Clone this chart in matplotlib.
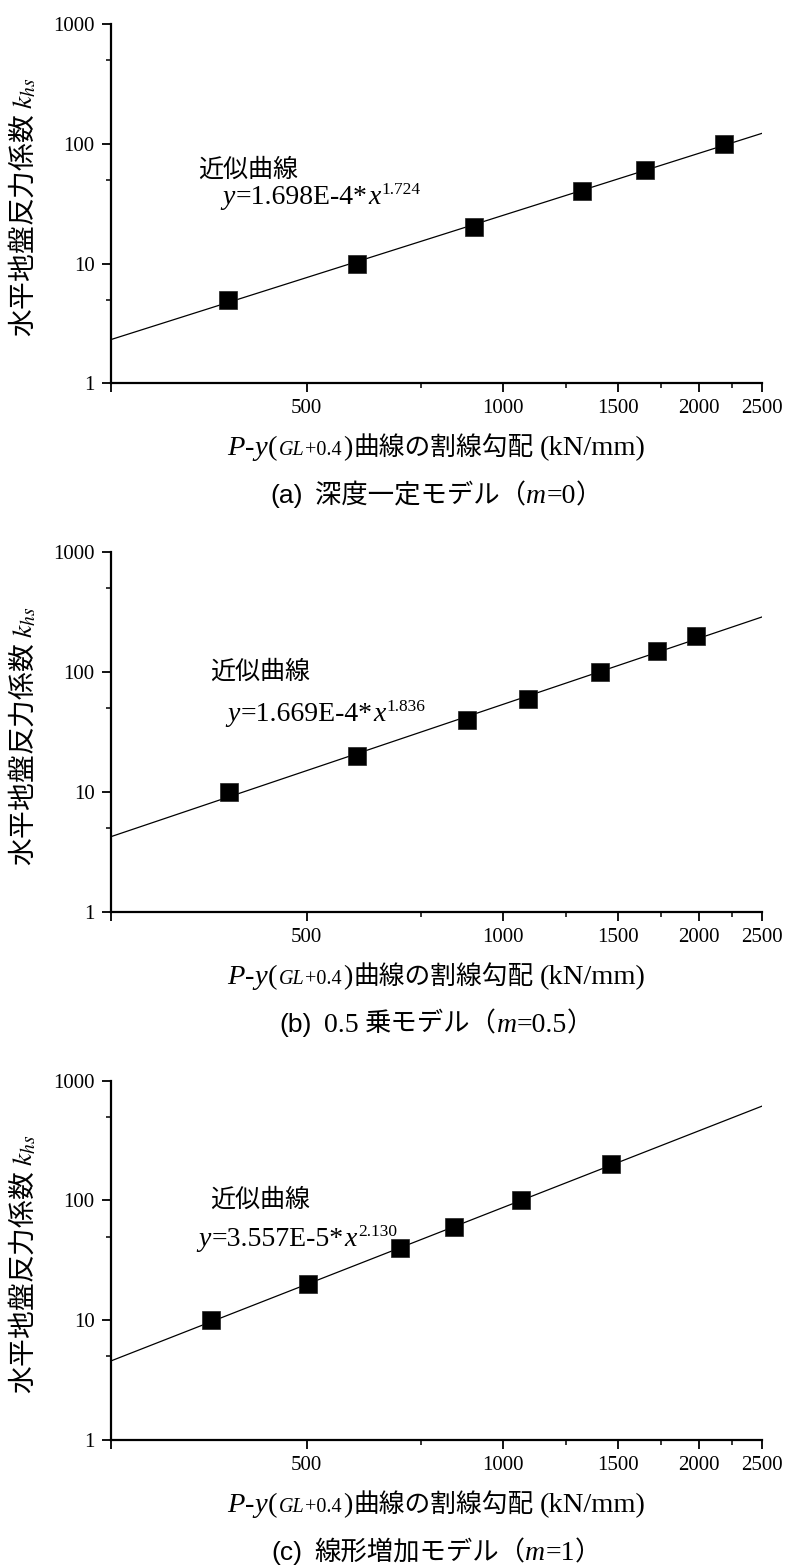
import matplotlib
matplotlib.use("Agg")
import matplotlib.pyplot as plt
from matplotlib.ticker import FixedLocator, FixedFormatter, NullFormatter
import numpy as np

W, H, DPI = 787, 1566, 100
SERIF = "Liberation Serif"
CJK = "Noto Sans CJK JP"
SANS = "Liberation Sans"

plt.rcParams["font.family"] = [SERIF, CJK, "DejaVu Sans"]
plt.rcParams["mathtext.fontset"] = "stix"

# ---------------- data ----------------
x_a = [378, 598, 902, 1323, 1654, 2182]
k_a = [5, 10, 20, 40, 60, 100]
x_b = [380, 598, 882, 1091, 1411, 1724, 1975]
k_b = [10, 20, 40, 60, 100, 150, 200]
x_c = [357, 503, 696, 842, 1067, 1465]
k_c = [10, 20, 40, 60, 100, 200]

fit_coef = [1.698e-4, 1.669e-4, 3.557e-5]
fit_exp = [1.724, 1.836, 2.130]
fit_coef_text = ["1.698E-4", "1.669E-4", "3.557E-5"]
fit_exp_text = ["1.724", "1.836", "2.130"]

x_major = [250, 500, 1000, 1500, 2000, 2500]
x_major_labels = ["", "500", "1000", "1500", "2000", "2500"]
x_minor = [750, 1250, 1750, 2250]
y_major = [1, 10, 100, 1000]
y_major_labels = ["1", "10", "100", "1000"]
y_minor = [5, 50, 500]
x_limits = [250, 2500]
y_limits = [1, 1000]

ylabel_cjk = "水平地盤反力係数"
xlabel_cjk = "曲線の割線勾配"
approx_label = "近似曲線"
caption_tags = ["(a)", "(b)", "(c)"]
caption_pre = ["", "0.5", ""]
caption_cjk = ["深度一定モデル（", "乗モデル（", "線形増加モデル（"]
caption_m = ["=0", "=0.5", "=1"]

# ---------------- layout (pixels) ----------------
AX_L, AX_R = 110.5, 762.3
AX_TOP = [24.0, 552.3, 1080.7]
AX_BOT = [383.3, 911.7, 1440.0]
ANN1 = [(198, 177), (210, 679), (210, 1207)]
ANN2 = [(222, 204), (227, 721), (198, 1246)]

fig = plt.figure(figsize=(W / DPI, H / DPI), dpi=DPI)
fig.patch.set_facecolor("white")


def f(x, y):
    return x / W, 1 - y / H


def rich(pieces, x, y, anchor="left"):
    r = fig.canvas.get_renderer()
    objs = []
    for s, kw, gap, dy in pieces:
        t = fig.text(0, 0, s, va="baseline", ha="left", **kw)
        objs.append((t, gap, dy))
    widths = [t.get_window_extent(r).width for t, _, _ in objs]
    total = sum(widths) + sum(g for _, g, _ in objs)
    cx = x - total / 2 if anchor == "center" else x
    for (t, gap, dy), w in zip(objs, widths):
        cx += gap
        t.set_position(f(cx, y - dy))
        cx += w


def S(size, italic=False):
    return dict(family=SERIF, size=size, style="italic" if italic else "normal")


def C(size):
    return dict(family=CJK, size=size)


datasets = [(x_a, k_a), (x_b, k_b), (x_c, k_c)]

for i in range(3):
    top, bot = AX_TOP[i], AX_BOT[i]
    ax = fig.add_axes([AX_L / W, 1 - bot / H, (AX_R - AX_L) / W, (bot - top) / H])
    ax.set_xscale("log")
    ax.set_yscale("log")
    ax.set_xlim(*x_limits)
    ax.set_ylim(*y_limits)
    for s in ["top", "right"]:
        ax.spines[s].set_visible(False)
    for s in ["left", "bottom"]:
        ax.spines[s].set_linewidth(1.6)
    ax.xaxis.set_major_locator(FixedLocator(x_major))
    ax.xaxis.set_major_formatter(FixedFormatter(x_major_labels))
    ax.xaxis.set_minor_locator(FixedLocator(x_minor))
    ax.xaxis.set_minor_formatter(NullFormatter())
    ax.yaxis.set_major_locator(FixedLocator(y_major))
    ax.yaxis.set_major_formatter(FixedFormatter(y_major_labels))
    ax.yaxis.set_minor_locator(FixedLocator(y_minor))
    ax.yaxis.set_minor_formatter(NullFormatter())
    ax.tick_params(which="major", direction="out", length=6.5, width=1.3,
                   labelsize=15, pad=5)
    ax.tick_params(which="minor", direction="out", length=3.5, width=1.1)
    for lab in ax.get_xticklabels() + ax.get_yticklabels():
        lab.set_fontfamily(SERIF)

    xs, ks = datasets[i]
    xf = np.array(x_limits, dtype=float)
    ax.plot(xf, fit_coef[i] * xf ** fit_exp[i], color="black", lw=0.9,
            zorder=2, clip_on=True)
    ax.plot(xs, ks, "s", color="black", markersize=13,
            markeredgecolor="#222222", markeredgewidth=0.5, zorder=3,
            clip_on=False)

    # y label
    cy = (top + bot) / 2 + 4
    fig.text(*f(24, cy), ylabel_cjk + " $k_{hs}$", rotation=90, ha="center",
             va="center", rotation_mode="anchor", family=CJK, size=20)

    # annotation
    x1, y1 = ANN1[i]
    fig.text(*f(x1, y1), approx_label, family=CJK, size=18, va="baseline",
             ha="left")
    x2, y2 = ANN2[i]
    rich([("y", S(20, True), 0, 0),
          ("=" + fit_coef_text[i] + "*", S(20), 1, 0),
          ("x", S(20, True), 1, 0),
          (fit_exp_text[i], S(12.5), 1, 10)], x2, y2)

    # x label
    xc = (AX_L + AX_R) / 2
    rich([("P", S(20.5, True), 0, 0),
          ("-", S(20.5), 0, 0),
          ("y", S(20.5, True), 0, 0),
          ("(", S(20.5), 1, 0),
          ("GL", S(14.5, True), 1, 0),
          ("+0.4", S(14.5), 1, 0),
          (")", S(20.5), 1, 0),
          (xlabel_cjk, C(18.5), 1, 0),
          ("(kN/mm)", S(20.5), 6, 0)], xc, bot + 72, anchor="center")

    # caption
    pieces = [(caption_tags[i], dict(family=SANS, size=19), 0, 0)]
    if caption_pre[i]:
        pieces.append((caption_pre[i], S(20), 12, 0))
        pieces.append((caption_cjk[i], C(19), 7, 0))
    else:
        pieces.append((caption_cjk[i], C(19), 12, 0))
    pieces += [("m", S(20, True), 0, 0), (caption_m[i], S(20), 0, 0),
               ("）", C(19), 0, 0)]
    rich(pieces, xc, bot + 120, anchor="center")

fig.savefig("out.png", dpi=DPI, facecolor="white")
